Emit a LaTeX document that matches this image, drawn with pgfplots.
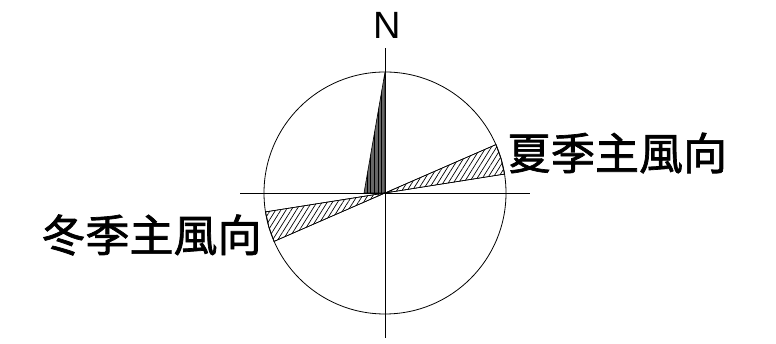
\documentclass[border=0pt]{standalone}
\usepackage{fontspec}
\setmainfont{Liberation Sans}
\newfontfamily\cjk[BoldFont=Noto Sans CJK TC, BoldFeatures={FakeBold=1.6}]{Noto Sans CJK TC}
\usepackage{pgfplots}
\pgfplotsset{compat=1.18}
\usetikzlibrary{patterns.meta}

% wedge outlines, 1 unit = 1pt, origin at the centre of the rose
\pgfplotstableread{
x y
0 0
-21 0
0 121
}\northwedge
\pgfplotstableread{
x y
0 0
119.5 18.9
116.1 34.0
110.9 48.4
}\summerwedge
\pgfplotstableread{
x y
0 0
-119.5 -18.9
-116.1 -34.0
-110.9 -48.4
}\winterwedge

\begin{document}
\begin{tikzpicture}
\begin{axis}[
    x=1pt, y=1pt,
    scale only axis,
    hide axis,
    clip=false,
    xmin=-385, xmax=391,
    ymin=-151, ymax=193,
]
\path (axis cs:-385,-151) rectangle (axis cs:391,193);

% circle and cross
\draw[line width=0.8pt] (axis cs:0,0) circle [radius=121];
\draw[line width=0.8pt] (axis cs:0,-145) -- (axis cs:0,145);
\draw[line width=0.8pt] (axis cs:-145,0) -- (axis cs:145,0);

% north sector: grey with vertical lines
\addplot[draw=black, line width=0.6pt, fill=black!60] table {\northwedge} -- cycle;
\addplot[draw=none, pattern={Lines[angle=90, distance=3.6pt, line width=0.9pt]}, pattern color=black] table {\northwedge} -- cycle;

% summer and winter sectors: hatched
\addplot[draw=black, line width=0.6pt, fill=white,
    postaction={pattern={Lines[angle=58, distance=4.4pt, line width=0.7pt]}, pattern color=black}]
    table {\summerwedge} -- cycle;
\addplot[draw=black, line width=0.6pt, fill=white,
    postaction={pattern={Lines[angle=58, distance=4.4pt, line width=0.7pt]}, pattern color=black}]
    table {\winterwedge} -- cycle;

\node[anchor=base, inner sep=0pt, font=\fontsize{38}{38}\selectfont] at (axis cs:2,154) {N};
\node[anchor=center, inner sep=0pt, font=\cjk\bfseries\fontsize{44}{44}\selectfont] at (axis cs:232,40) {夏季主風向};
\node[anchor=center, inner sep=0pt, font=\cjk\bfseries\fontsize{44}{44}\selectfont] at (axis cs:-233.5,-42) {冬季主風向};
\end{axis}
\end{tikzpicture}
\end{document}
